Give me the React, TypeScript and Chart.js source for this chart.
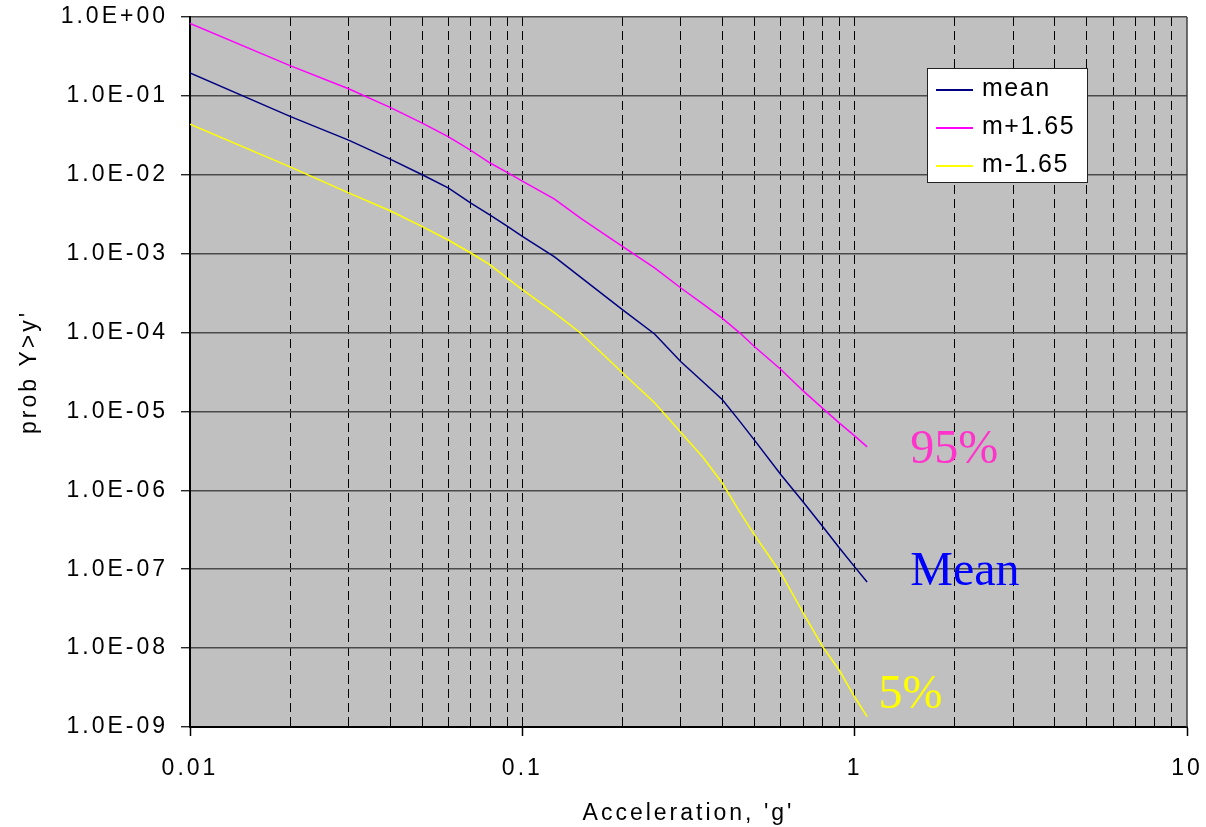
import React, { useEffect, useRef } from 'react';
import { Chart, registerables } from 'chart.js';

Chart.register(...registerables);

// ---- data ----
const accel = [0.01, 0.02, 0.03, 0.04, 0.05, 0.06, 0.07, 0.08, 0.09, 0.1, 0.125, 0.15, 0.2, 0.25, 0.3, 0.35, 0.4, 0.45, 0.5, 0.6, 0.7, 0.8, 0.9, 1.0, 1.09];
const meanProb = [0.195, 0.055, 0.0275, 0.0158, 0.0100, 0.00676, 0.00437, 0.00309, 0.00224, 0.00166, 9.1e-4, 5.0e-4, 1.95e-4, 9.6e-5, 4.27e-5, 2.36e-5, 1.41e-5, 7.6e-6, 4.3e-6, 1.58e-6, 7.1e-7, 3.5e-7, 1.86e-7, 1.07e-7, 6.9e-8];
const upperProb = [0.83, 0.242, 0.123, 0.0716, 0.0452, 0.0302, 0.0204, 0.0141, 0.0107, 0.0083, 0.0049, 0.0028, 0.00124, 6.6e-4, 3.67e-4, 2.3e-4, 1.51e-4, 1.0e-4, 6.6e-5, 3.4e-5, 1.82e-5, 1.1e-5, 7.1e-6, 4.9e-6, 3.55e-6];
const lowerProb = [0.0437, 0.0126, 0.0059, 0.0035, 0.0022, 0.00148, 0.00102, 7.2e-4, 4.9e-4, 3.5e-4, 1.78e-4, 9.8e-5, 3.1e-5, 1.29e-5, 5.4e-6, 2.6e-6, 1.23e-6, 5.4e-7, 2.7e-7, 8.9e-8, 2.8e-8, 1.05e-8, 5.2e-9, 2.4e-9, 1.35e-9];

const seriesNames = ['mean', 'm+1.65', 'm-1.65'];
const seriesColors = ['#000080', '#FF00FF', '#FFFF00'];

const xTickValues = [0.01, 0.1, 1, 10];
const xTickLabels = ['0.01', '0.1', '1', '10'];
const xGridMultipliers = [1, 2, 3, 4, 5, 6, 7, 8, 9];
const yTickValues = [1, 1e-1, 1e-2, 1e-3, 1e-4, 1e-5, 1e-6, 1e-7, 1e-8, 1e-9];
const yTickLabels = ['1.0E+00', '1.0E-01', '1.0E-02', '1.0E-03', '1.0E-04', '1.0E-05', '1.0E-06', '1.0E-07', '1.0E-08', '1.0E-09'];

const xTitle = "Acceleration, 'g'";
const yTitle = "prob Y>y'";

const annotationTexts = ['95%', 'Mean', '5%'];
const annotationX = [1.47, 1.47, 1.18];
const annotationY = [2.2e-6, 6.3e-8, 1.75e-9];
const annotationColors = ['#FF33CC', '#0000FF', '#FFFF00'];

const SANS = "'Liberation Sans', Arial, sans-serif";
const SERIF = "'Liberation Serif', 'Times New Roman', serif";

const close = (a: number, b: number) => Math.abs(a - b) <= Math.abs(b) * 1e-6;

const xGridValues: number[] = [];
xTickValues.slice(0, -1).forEach((d) => xGridMultipliers.forEach((m) => xGridValues.push(Number((d * m).toPrecision(3)))));
xGridValues.push(xTickValues[xTickValues.length - 1]);

const zeroPad = (s: any) => { s.paddingTop = 0; s.paddingBottom = 0; s.paddingLeft = 0; s.paddingRight = 0; };

const decorPlugin = {
  id: 'decor',
  beforeDraw(chart: any) {
    const { ctx, chartArea: a } = chart;
    ctx.save();
    ctx.fillStyle = '#C0C0C0';
    ctx.fillRect(a.left, a.top, a.right - a.left, a.bottom - a.top);
    ctx.restore();
    (ctx as any).letterSpacing = '3px';
  },
  beforeDatasetsDraw(chart: any) {
    const { ctx, chartArea: a } = chart;
    ctx.save();
    ctx.strokeStyle = '#404040';
    ctx.lineWidth = 1.5;
    ctx.beginPath();
    ctx.moveTo(a.right, a.top);
    ctx.lineTo(a.right, a.bottom);
    ctx.stroke();
    ctx.restore();
  },
  afterDraw(chart: any) {
    const { ctx, chartArea: a, scales } = chart;
    (ctx as any).letterSpacing = '0px';
    // annotations
    ctx.save();
    ctx.font = `48px ${SERIF}`;
    ctx.textBaseline = 'alphabetic';
    ctx.textAlign = 'left';
    annotationTexts.forEach((t, i) => {
      ctx.fillStyle = annotationColors[i];
      ctx.fillText(t, scales.x.getPixelForValue(annotationX[i]), scales.y.getPixelForValue(annotationY[i]));
    });
    ctx.restore();
    // legend
    const bw = 160, bh = 114;
    const bx = Math.round(a.right - 100 - bw);
    const by = Math.round(a.top + 51);
    ctx.save();
    ctx.fillStyle = '#FFFFFF';
    ctx.fillRect(bx, by, bw, bh);
    ctx.strokeStyle = '#222';
    ctx.lineWidth = 1;
    ctx.strokeRect(bx + 0.5, by + 0.5, bw, bh);
    ctx.font = `25px ${SANS}`;
    (ctx as any).letterSpacing = '1.5px';
    ctx.textBaseline = 'middle';
    ctx.textAlign = 'left';
    seriesNames.forEach((name, i) => {
      const ly = by + 22 + i * 38;
      ctx.strokeStyle = seriesColors[i];
      ctx.lineWidth = 2;
      ctx.beginPath();
      ctx.moveTo(bx + 9, ly);
      ctx.lineTo(bx + 46, ly);
      ctx.stroke();
      ctx.fillStyle = '#000';
      ctx.fillText(name, bx + 55, ly - 1);
    });
    (ctx as any).letterSpacing = '0px';
    ctx.restore();
  },
};

export default function App() {
  const ref = useRef<HTMLCanvasElement>(null);
  useEffect(() => {
    if (!ref.current) return;
    Chart.defaults.font.family = SANS;
    Chart.defaults.color = '#000';
    const series = [meanProb, upperProb, lowerProb];
    const chart = new Chart(ref.current, {
      type: 'scatter',
      data: {
        datasets: seriesNames.map((name, i) => ({
          label: name,
          data: accel.map((x, j) => ({ x, y: series[i][j] })),
          borderColor: seriesColors[i],
          backgroundColor: seriesColors[i],
          borderWidth: 1.5,
          pointRadius: 0,
          showLine: true,
          fill: false,
          tension: 0,
        })),
      },
      options: {
        responsive: false,
        animation: false,
        layout: { padding: { top: 17, right: 19, left: 0, bottom: 0 } },
        plugins: { legend: { display: false }, tooltip: { enabled: false } },
        scales: {
          x: {
            type: 'logarithmic',
            position: 'bottom',
            min: 0.01,
            max: 10,
            afterBuildTicks: (s: any) => { s.ticks = xGridValues.map((v) => ({ value: v })); },
            afterFit: (s: any) => { s.height = 100; zeroPad(s); },
            ticks: {
              autoSkip: false,
              maxRotation: 0,
              minRotation: 0,
              padding: 19,
              font: { size: 23 },
              color: '#000',
              callback: (v: any) => {
                const i = xTickValues.findIndex((t) => close(Number(v), t));
                return i >= 0 ? xTickLabels[i] : '';
              },
            },
            grid: {
              color: (c: any) => {
                const v = c.tick ? c.tick.value : 0;
                return close(v, 0.01) || close(v, 10) ? 'transparent' : '#000';
              },
              lineWidth: 1,
              tickLength: 9,
              tickWidth: 1.5,
              tickBorderDash: [],
              tickColor: (c: any) => {
                const v = c.tick ? c.tick.value : 0;
                return xTickValues.some((t) => close(v, t)) ? '#000' : 'transparent';
              },
            },
            border: { display: true, color: '#000', width: 2, dash: [9, 5] },
            title: { display: true, text: xTitle, font: { size: 23 }, color: '#000', padding: { top: 10, bottom: 0 } },
          },
          y: {
            type: 'logarithmic',
            min: 1e-9,
            max: 1,
            afterBuildTicks: (s: any) => { s.ticks = yTickValues.map((v) => ({ value: v })); },
            afterFit: (s: any) => { s.width = 190; zeroPad(s); },
            ticks: {
              autoSkip: false,
              padding: 13,
              font: { size: 23 },
              color: '#000',
              callback: (v: any) => {
                const i = yTickValues.findIndex((t) => close(Number(v), t));
                return i >= 0 ? yTickLabels[i] : '';
              },
            },
            grid: {
              color: (c: any) => {
                const v = c.tick ? c.tick.value : 0;
                return close(v, 1e-9) ? 'transparent' : '#4a4a4a';
              },
              lineWidth: 1.5,
              tickLength: 9,
              tickWidth: 1.2,
              tickColor: '#000',
            },
            border: { display: true, color: '#000', width: 2 },
            title: { display: true, text: yTitle, font: { size: 23 }, color: '#000', padding: { top: 16, bottom: 0 } },
          },
        },
      },
      plugins: [decorPlugin],
    } as any);
    return () => chart.destroy();
  }, []);
  return (
    <div style={{ position: 'fixed', left: 0, top: 0, width: 1206, height: 827, background: '#fff' }}>
      <canvas ref={ref} width={1206} height={827} style={{ display: 'block', width: 1206, height: 827 }} />
    </div>
  );
}
